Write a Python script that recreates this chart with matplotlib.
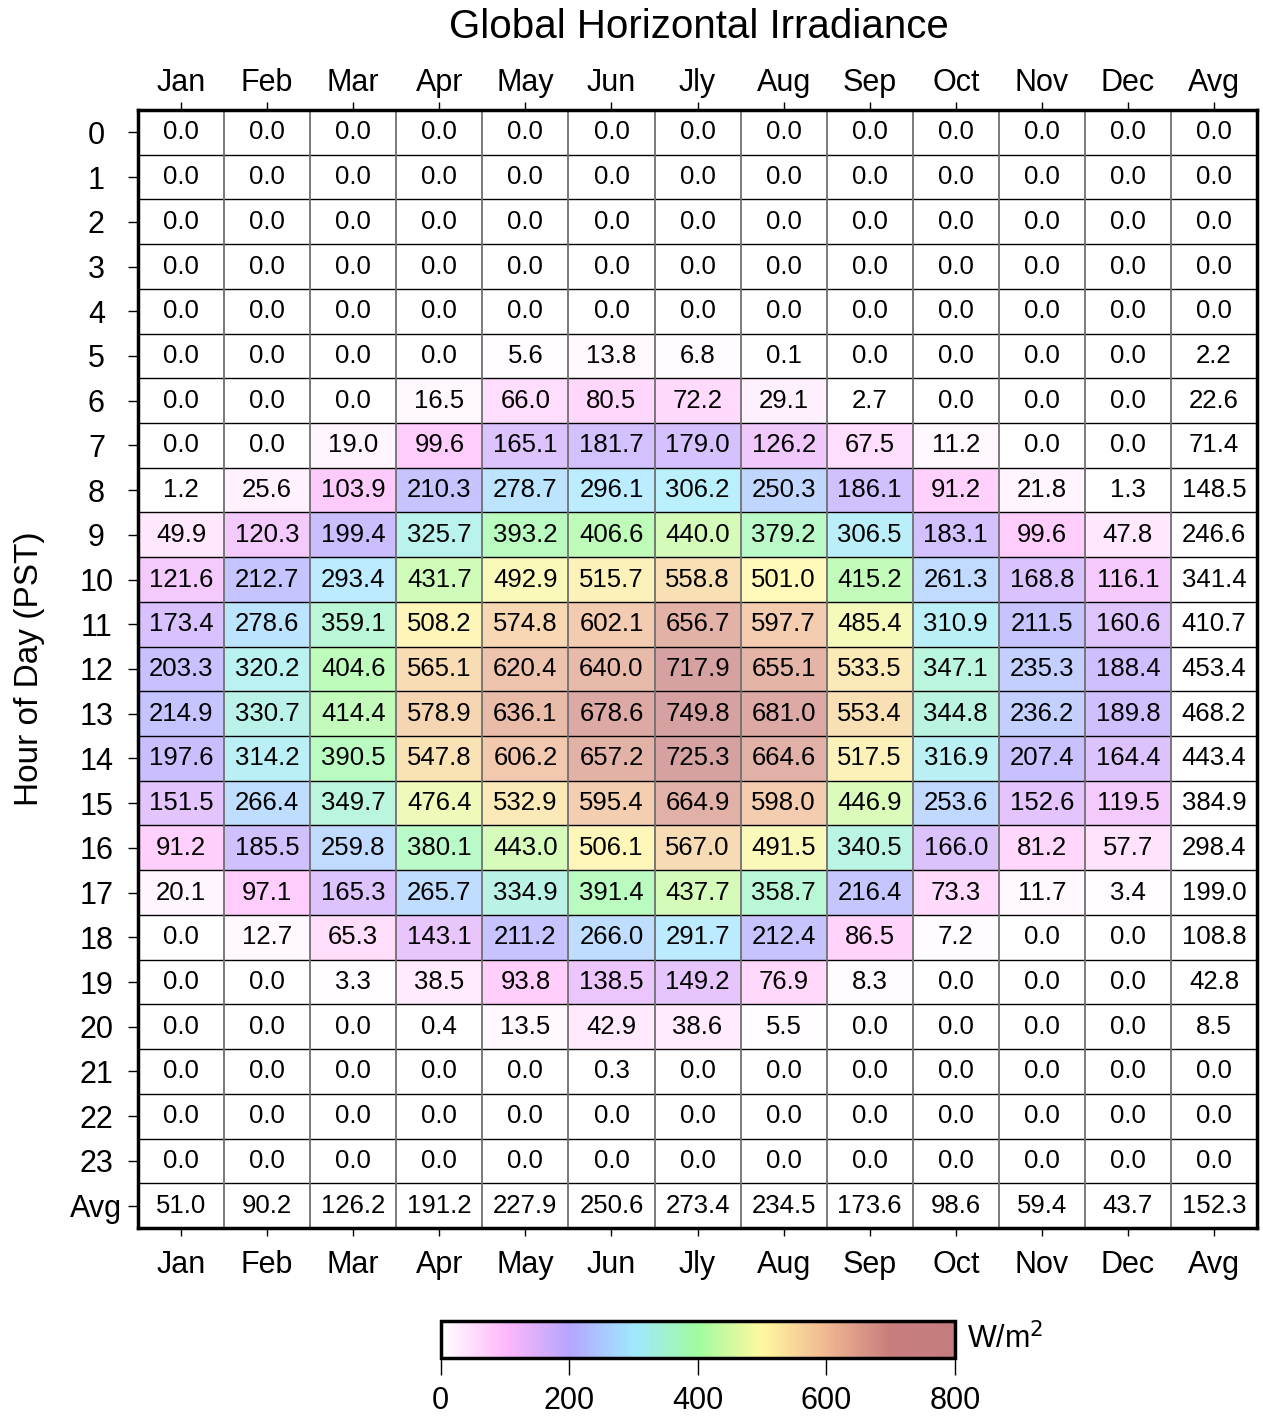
import numpy as np
import matplotlib
matplotlib.use('Agg')
import matplotlib.pyplot as plt
from matplotlib.colors import LinearSegmentedColormap, Normalize

plt.rcParams['font.family'] = ['Liberation Sans', 'DejaVu Sans']

months = ['Jan', 'Feb', 'Mar', 'Apr', 'May', 'Jun', 'Jly', 'Aug', 'Sep', 'Oct', 'Nov', 'Dec', 'Avg']
hours = [str(h) for h in range(24)] + ['Avg']

# hourly mean GHI (W/m2), one row per hour, columns Jan..Dec then Avg
zero = [0.0] * 13
ghi = [
    zero, zero, zero, zero, zero,
    [0.0, 0.0, 0.0, 0.0, 5.6, 13.8, 6.8, 0.1, 0.0, 0.0, 0.0, 0.0, 2.2],
    [0.0, 0.0, 0.0, 16.5, 66.0, 80.5, 72.2, 29.1, 2.7, 0.0, 0.0, 0.0, 22.6],
    [0.0, 0.0, 19.0, 99.6, 165.1, 181.7, 179.0, 126.2, 67.5, 11.2, 0.0, 0.0, 71.4],
    [1.2, 25.6, 103.9, 210.3, 278.7, 296.1, 306.2, 250.3, 186.1, 91.2, 21.8, 1.3, 148.5],
    [49.9, 120.3, 199.4, 325.7, 393.2, 406.6, 440.0, 379.2, 306.5, 183.1, 99.6, 47.8, 246.6],
    [121.6, 212.7, 293.4, 431.7, 492.9, 515.7, 558.8, 501.0, 415.2, 261.3, 168.8, 116.1, 341.4],
    [173.4, 278.6, 359.1, 508.2, 574.8, 602.1, 656.7, 597.7, 485.4, 310.9, 211.5, 160.6, 410.7],
    [203.3, 320.2, 404.6, 565.1, 620.4, 640.0, 717.9, 655.1, 533.5, 347.1, 235.3, 188.4, 453.4],
    [214.9, 330.7, 414.4, 578.9, 636.1, 678.6, 749.8, 681.0, 553.4, 344.8, 236.2, 189.8, 468.2],
    [197.6, 314.2, 390.5, 547.8, 606.2, 657.2, 725.3, 664.6, 517.5, 316.9, 207.4, 164.4, 443.4],
    [151.5, 266.4, 349.7, 476.4, 532.9, 595.4, 664.9, 598.0, 446.9, 253.6, 152.6, 119.5, 384.9],
    [91.2, 185.5, 259.8, 380.1, 443.0, 506.1, 567.0, 491.5, 340.5, 166.0, 81.2, 57.7, 298.4],
    [20.1, 97.1, 165.3, 265.7, 334.9, 391.4, 437.7, 358.7, 216.4, 73.3, 11.7, 3.4, 199.0],
    [0.0, 12.7, 65.3, 143.1, 211.2, 266.0, 291.7, 212.4, 86.5, 7.2, 0.0, 0.0, 108.8],
    [0.0, 0.0, 3.3, 38.5, 93.8, 138.5, 149.2, 76.9, 8.3, 0.0, 0.0, 0.0, 42.8],
    [0.0, 0.0, 0.0, 0.4, 13.5, 42.9, 38.6, 5.5, 0.0, 0.0, 0.0, 0.0, 8.5],
    [0.0, 0.0, 0.0, 0.0, 0.0, 0.3, 0.0, 0.0, 0.0, 0.0, 0.0, 0.0, 0.0],
    zero, zero,
    [51.0, 90.2, 126.2, 191.2, 227.9, 250.6, 273.4, 234.5, 173.6, 98.6, 59.4, 43.7, 152.3],
]
vals = np.array(ghi)

cbar_ticks = [0, 200, 400, 600, 800]

cmap = LinearSegmentedColormap.from_list('irr', [
    (0.0, '#ffffff'),
    (0.125, '#ffb8fa'),
    (0.25, '#b4a5ff'),
    (0.375, '#a0e8ff'),
    (0.5, '#a0fca0'),
    (0.625, '#fff8a0'),
    (0.75, '#f0b892'),
    (0.875, '#c87d7d'),
    (1.0, '#c47d7d'),
])
norm = Normalize(0, 800)

fig = plt.figure(figsize=(12.63, 14.16), dpi=100)
ax = fig.add_axes([0.1093, 0.1328, 0.886, 0.7895])

# averages (last row and column) stay white
shade = np.ma.masked_array(vals, mask=np.zeros_like(vals, dtype=bool))
shade.mask[-1, :] = True
shade.mask[:, -1] = True
nr, nc = vals.shape
ax.pcolormesh(np.arange(nc + 1), np.arange(nr + 1), shade, cmap=cmap, norm=norm, alpha=0.72)

for i in range(nr):
    for j in range(nc):
        ax.text(j + 0.5, i + 0.5, '%.1f' % vals[i, j], ha='center', va='center', fontsize=18.5)

for y in range(1, nr):
    ax.axhline(y, color='black', lw=1.0)
for x in range(1, nc):
    ax.axvline(x, color='#707070', lw=1.3)

ax.set_xlim(0, nc)
ax.set_ylim(nr, 0)
ax.set_xticks(np.arange(nc) + 0.5)
ax.set_xticklabels(months)
ax.set_yticks(np.arange(nr) + 0.5)
ax.set_yticklabels(hours)
ax.tick_params(axis='x', labelsize=22, length=6, width=1, pad=10)
ax.tick_params(axis='y', labelsize=22, length=7, width=1, pad=23)
for lab in ax.get_yticklabels():
    lab.set_ha('center')

# month labels along the top, a bit closer to the frame
top = ax.secondary_xaxis('top')
top.set_xticks(np.arange(nc) + 0.5)
top.set_xticklabels(months)
top.tick_params(labelsize=22, length=6, width=1, pad=3)
top.spines['top'].set_visible(False)

for s in ax.spines.values():
    s.set_linewidth(2.5)
ax.set_ylabel('Hour of Day (PST)', fontsize=24, labelpad=18)
fig.text(0.553, 0.981, 'Global Horizontal Irradiance', ha='center', va='center', fontsize=29)

cax = fig.add_axes([0.349, 0.041, 0.407, 0.0261])
cb = fig.colorbar(plt.cm.ScalarMappable(norm=norm, cmap=cmap), cax=cax, orientation='horizontal')
cb.set_ticks(cbar_ticks)
cb.outline.set_linewidth(2.5)
cax.tick_params(labelsize=22, length=12, width=1, pad=8)
fig.text(0.766, 0.054, 'W/m$^2$', ha='left', va='center', fontsize=22)

plt.savefig('out.png', dpi=100)
